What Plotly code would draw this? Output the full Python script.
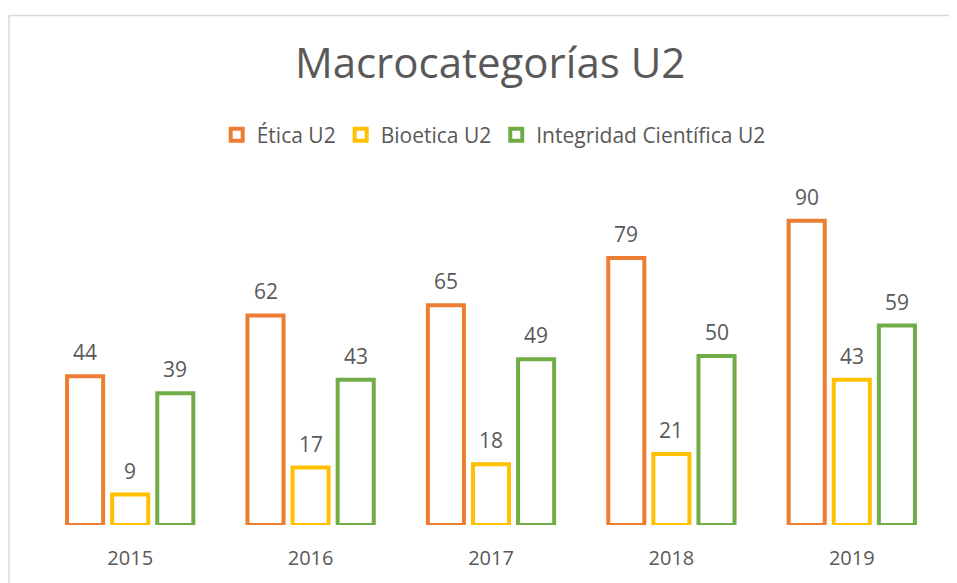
import plotly.graph_objects as go

years = ["2015", "2016", "2017", "2018", "2019"]
etica = [44, 62, 65, 79, 90]
bioetica = [9, 17, 18, 21, 43]
integridad = [39, 43, 49, 50, 59]

series = [
    ("Ética U2", etica, "#ED7D31"),
    ("Bioetica U2", bioetica, "#FFC000"),
    ("Integridad Científica U2", integridad, "#70AD47"),
]
offsets = [-0.35, -0.1, 0.15]
BW = 0.2

W, H = 949, 575
ml, mr, mt, mb = 32, 15, 170, 55
SCALE = 3.41
FONT = "'Open Sans', sans-serif"
GRAY = "#595959"

fig = go.Figure()
annotations = []
for (name, vals, col), off in zip(series, offsets):
    fig.add_trace(go.Bar(
        x=years, y=vals, name=name, width=BW, offset=off,
        marker=dict(color="white", line=dict(color=col, width=4)),
    ))
    for j, v in enumerate(vals):
        annotations.append(dict(
            x=j + off + BW / 2, y=v, xref="x", yref="y",
            text=str(v), showarrow=False, yanchor="bottom",
            yshift=8, font=dict(size=21, color=GRAY, family=FONT)))

pw = W - ml - mr
ph = H - mt - mb
fig.update_layout(
    width=W, height=H,
    margin=dict(l=ml, r=mr, t=mt, b=mb),
    paper_bgcolor="white", plot_bgcolor="white",
    barmode="overlay",
    title=dict(text="Macrocategorías U2", x=0.508, xanchor="center",
               y=1 - 55 / H, yanchor="middle",
               font=dict(size=42, color=GRAY, family=FONT)),
    legend=dict(orientation="h", x=0.503, xanchor="center",
                y=1 - 127 / H, yref="container", yanchor="middle",
                font=dict(size=21, color=GRAY, family=FONT),
                tracegroupgap=0),
    xaxis=dict(showline=False, showgrid=False, ticks="",
               range=[-0.5, 4.5], ticklabelstandoff=19,
               tickfont=dict(size=20, color=GRAY, family=FONT)),
    yaxis=dict(visible=False, range=[0, ph / SCALE]),
    annotations=annotations,
    shapes=[
        dict(type="line", xref="paper", yref="paper",
             x0=(1 - ml) / pw, x1=(1 - ml) / pw,
             y0=(H - mb - 6) / ph, y1=-(mb + 5) / ph,
             line=dict(color="#D9D9D9", width=1.5)),
        dict(type="line", xref="paper", yref="paper",
             x0=(1 - ml) / pw, x1=(W + 5 - ml) / pw,
             y0=(H - mb - 6) / ph, y1=(H - mb - 6) / ph,
             line=dict(color="#D9D9D9", width=1.5)),
    ],
)

fig.write_html("out.html")
